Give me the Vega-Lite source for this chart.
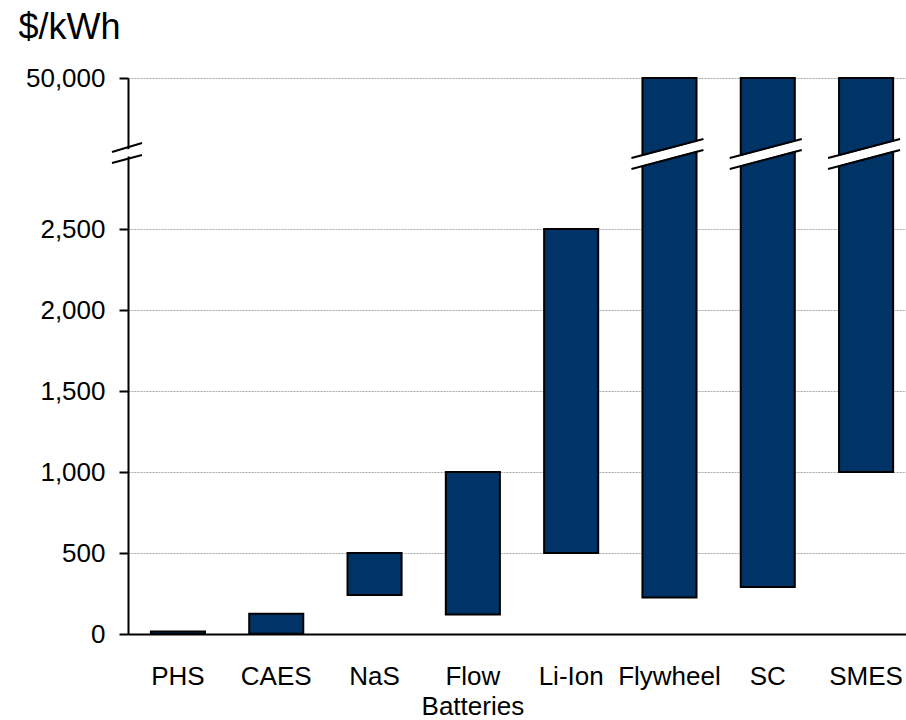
{
  "$schema": "https://vega.github.io/schema/vega-lite/v6.json",
  "autosize": {"type": "none"},
  "padding": {"left": 128, "top": 78, "right": 0, "bottom": 86},
  "width": 778,
  "height": 556,
  "config": {
    "font": "Liberation Sans",
    "view": {"stroke": null},
    "background": "white"
  },
  "datasets": {
    "bars": [
      {"tech": "PHS", "low": 0, "high": 15},
      {"tech": "CAES", "low": 2, "high": 125},
      {"tech": "NaS", "low": 240, "high": 500},
      {"tech": "Flow Batteries", "low": 120, "high": 1000},
      {"tech": "Li-Ion", "low": 500, "high": 2500},
      {"tech": "Flywheel", "low": 225, "high": 50000},
      {"tech": "SC", "low": 290, "high": 50000},
      {"tech": "SMES", "low": 1000, "high": 50000}
    ],
    "barBreakFill": [
      {"tech": "Flywheel", "yl": 2904, "yr": 3022},
      {"tech": "SC", "yl": 2904, "yr": 3022},
      {"tech": "SMES", "yl": 2904, "yr": 3022}
    ],
    "barBreakLines": [
      {"tech": "Flywheel", "yl": 2938, "yr": 3056},
      {"tech": "Flywheel", "yl": 2870, "yr": 2988},
      {"tech": "SC", "yl": 2938, "yr": 3056},
      {"tech": "SC", "yl": 2870, "yr": 2988},
      {"tech": "SMES", "yl": 2938, "yr": 3056},
      {"tech": "SMES", "yl": 2870, "yr": 2988}
    ],
    "axisBreakFill": [
      {"yl": 2941, "yr": 2994}
    ],
    "axisBreakLines": [
      {"yl": 2975, "yr": 3031},
      {"yl": 2907, "yr": 2957}
    ]
  },
  "layer": [
    {
      "data": {"name": "bars"},
      "mark": {"type": "bar", "fill": "#003366", "stroke": "black", "strokeWidth": 2},
      "encoding": {
        "x": {
          "field": "tech",
          "type": "nominal",
          "scale": {
            "domain": ["PHS", "CAES", "NaS", "Flow Batteries", "Li-Ion", "Flywheel", "SC", "SMES"],
            "paddingInner": 0.45,
            "paddingOuter": 0.182,
            "align": 0.64
          },
          "axis": {
            "title": null,
            "labelAngle": 0,
            "labelFontSize": 26,
            "labelColor": "black",
            "labelPadding": 29,
            "labelLineHeight": 30,
            "ticks": false,
            "tickSize": 0,
            "domainColor": "black",
            "domainWidth": 2,
            "labelExpr": "datum.value == 'Flow Batteries' ? ['Flow', 'Batteries'] : datum.value"
          }
        },
        "y": {
          "field": "low",
          "type": "quantitative",
          "scale": {"domain": [0, 3100, 50000], "range": [556, 53.8, 0], "nice": false, "zero": false},
          "axis": {
            "title": "$/kWh",
            "titleAngle": 0,
            "titleX": -110,
            "titleY": -40,
            "titleAlign": "left",
            "titleBaseline": "alphabetic",
            "titleFontSize": 36,
            "titleFontWeight": "normal",
            "titleColor": "black",
            "values": [0, 500, 1000, 1500, 2000, 2500, 50000],
            "labelExpr": "format(datum.value, ',')",
            "labelFontSize": 26,
            "labelColor": "black",
            "labelPadding": 14,
            "tickSize": 9,
            "tickWidth": 2,
            "tickColor": "black",
            "domainColor": "black",
            "domainWidth": 2,
            "grid": true,
            "gridColor": "#a8a8a8",
            "gridDash": [2, 1],
            "gridWidth": 1
          }
        },
        "y2": {"field": "high"}
      }
    },
    {
      "data": {"name": "barBreakFill"},
      "mark": {"type": "rule", "stroke": "white", "strokeWidth": 9, "xOffset": -38, "x2Offset": 34},
      "encoding": {
        "x": {"field": "tech", "type": "nominal"},
        "x2": {"field": "tech"},
        "y": {"field": "yl", "type": "quantitative"},
        "y2": {"field": "yr"}
      }
    },
    {
      "data": {"name": "barBreakLines"},
      "mark": {"type": "rule", "stroke": "black", "strokeWidth": 2, "xOffset": -38, "x2Offset": 34},
      "encoding": {
        "x": {"field": "tech", "type": "nominal"},
        "x2": {"field": "tech"},
        "y": {"field": "yl", "type": "quantitative"},
        "y2": {"field": "yr"}
      }
    },
    {
      "data": {"name": "axisBreakFill"},
      "mark": {"type": "rule", "stroke": "white", "strokeWidth": 7, "xOffset": -16, "x2Offset": 14},
      "encoding": {
        "x": {"value": 0},
        "x2": {"value": 0},
        "y": {"field": "yl", "type": "quantitative"},
        "y2": {"field": "yr"}
      }
    },
    {
      "data": {"name": "axisBreakLines"},
      "mark": {"type": "rule", "stroke": "black", "strokeWidth": 2, "xOffset": -16, "x2Offset": 14},
      "encoding": {
        "x": {"value": 0},
        "x2": {"value": 0},
        "y": {"field": "yl", "type": "quantitative"},
        "y2": {"field": "yr"}
      }
    }
  ]
}
